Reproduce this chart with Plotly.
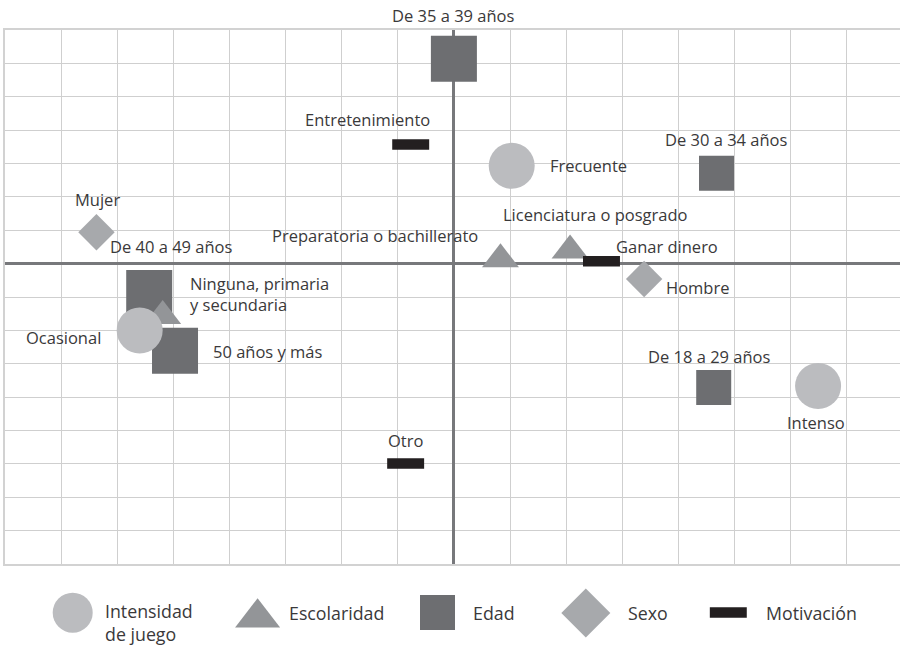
import plotly.graph_objects as go

# ---- data: coordinates of each category on the two dimensions ----
edad_labels = ["De 35 a 39 años", "De 30 a 34 años", "De 40 a 49 años", "50 años y más", "De 18 a 29 años"]
edad_x = [0.00, 4.68, -5.43, -4.97, 4.63]
edad_y = [6.14, 2.71, -0.88, -2.61, -3.71]

escolaridad_labels = ["Preparatoria o bachillerato", "Licenciatura o posgrado", "Ninguna, primaria<br>y secundaria"]
escolaridad_x = [0.83, 2.07, -5.19]
escolaridad_y = [0.13, 0.39, -1.57]

intensidad_labels = ["Frecuente", "Ocasional", "Intenso"]
intensidad_x = [1.03, -5.60, 6.49]
intensidad_y = [2.93, -2.00, -3.67]

sexo_labels = ["Mujer", "Hombre"]
sexo_x = [-6.37, 3.39]
sexo_y = [0.94, -0.46]

motivacion_labels = ["Entretenimiento", "Ganar dinero", "Otro"]
motivacion_x = [-0.77, 2.63, -0.86]
motivacion_y = [3.57, 0.07, -5.99]

legend_names = ["Intensidad<br>de juego", "Escolaridad", "Edad", "Sexo", "Motivación"]

# ---- styling ----
FONT = "Open Sans"
TEXT = "#3a393a"
C_CIRCLE = "#bbbcbf"
C_TRI = "#939598"
C_SQUARE = "#6d6e71"
C_DIAMOND = "#a7a9ac"
C_BAR = "#231f20"

W, H = 900, 647
M_L, M_T = 5, 30
PLOT_BOTTOM = 564
y_split = (H - PLOT_BOTTOM) / (H - M_T)

edad_sizes = [46, 35, 46, 46, 35]

# label placement: (xanchor, xshift px, yshift px) relative to the mark
label_pos = {
    "De 35 a 39 años": ("center", 0, 43),
    "De 30 a 34 años": ("center", 10, 34),
    "De 40 a 49 años": ("left", -39, 47),
    "50 años y más": ("left", 38, -1),
    "De 18 a 29 años": ("center", -4, 31),
    "Preparatoria o bachillerato": ("right", -22, 24),
    "Licenciatura o posgrado": ("center", 25, 36),
    "Ninguna, primaria<br>y secundaria": ("left", 27, 22),
    "Frecuente": ("left", 38, 0),
    "Ocasional": ("right", -39, -7),
    "Intenso": ("center", -2, -36),
    "Mujer": ("center", 1, 33),
    "Hombre": ("left", 22, -9),
    "Entretenimiento": ("right", 19, 25),
    "Ganar dinero": ("left", 15, 15),
    "Otro": ("center", 0, 23),
}

fig = go.Figure()

# Edad (squares) go first so the other marks sit on top of them
fig.add_trace(go.Scatter(
    x=edad_x, y=edad_y, mode="markers", name="Edad", hoverinfo="skip",
    marker=dict(symbol="square", size=edad_sizes, color=C_SQUARE, opacity=1, line=dict(width=0)),
))
fig.add_trace(go.Scatter(
    x=escolaridad_x, y=escolaridad_y, mode="markers", name="Escolaridad", hoverinfo="skip",
    marker=dict(symbol="triangle-up", size=32, color=C_TRI, opacity=1, line=dict(width=0)),
))
fig.add_trace(go.Scatter(
    x=intensidad_x, y=intensidad_y, mode="markers", name="Intensidad de juego", hoverinfo="skip",
    marker=dict(symbol="circle", size=46, color=C_CIRCLE, opacity=1, line=dict(width=0)),
))
fig.add_trace(go.Scatter(
    x=sexo_x, y=sexo_y, mode="markers", name="Sexo", hoverinfo="skip",
    marker=dict(symbol="diamond", size=28, color=C_DIAMOND, opacity=1, line=dict(width=0)),
))
fig.add_trace(go.Scatter(
    x=motivacion_x, y=motivacion_y, mode="markers", name="Motivación", hoverinfo="skip",
    marker=dict(symbol="line-ew", size=26.4, color=C_BAR, opacity=1,
                line=dict(width=10.5, color=C_BAR)),
))

annotations = []
for labels, xs, ys in [
    (edad_labels, edad_x, edad_y),
    (escolaridad_labels, escolaridad_x, escolaridad_y),
    (intensidad_labels, intensidad_x, intensidad_y),
    (sexo_labels, sexo_x, sexo_y),
    (motivacion_labels, motivacion_x, motivacion_y),
]:
    for lab, xv, yv in zip(labels, xs, ys):
        anchor, dx, dy = label_pos[lab]
        annotations.append(dict(
            x=xv, y=yv, xref="x", yref="y", text=lab, showarrow=False,
            xanchor=anchor, yanchor="middle", xshift=dx, yshift=dy,
            align="left", borderpad=0, borderwidth=0,
            font=dict(family=FONT, size=16.5, color=TEXT),
        ))

# ---- legend row drawn on its own pixel-unit axes below the plot ----
leg_x = [72.7, 257.6, 437.5, 585.8, 728.3]
leg_text_x = [105, 289, 473, 628, 766]
leg_symbols = ["circle", "triangle-up", "square", "diamond", "line-ew"]
leg_colors = [C_CIRCLE, C_TRI, C_SQUARE, C_DIAMOND, C_BAR]
leg_sizes = [40, 39, 35, 37.7, 26.4]
leg_y = [612.7, 617.7, 612.5, 613, 612.5]

for sx, sy, sym, col, sz in zip(leg_x, leg_y, leg_symbols, leg_colors, leg_sizes):
    line = dict(width=10.5, color=col) if sym == "line-ew" else dict(width=0)
    fig.add_trace(go.Scatter(
        x=[sx], y=[sy], xaxis="x2", yaxis="y2", mode="markers", hoverinfo="skip",
        marker=dict(symbol=sym, size=sz, color=col, opacity=1, line=line), showlegend=False,
    ))

for tx, name in zip(leg_text_x, legend_names):
    two_lines = "<br>" in name
    annotations.append(dict(
        x=tx, y=622.5 if two_lines else 613, xref="x2", yref="y2", text=name,
        showarrow=False, xanchor="left", yanchor="middle", align="left",
        borderpad=0, borderwidth=0,
        font=dict(family=FONT, size=17.8, color=TEXT),
    ))

grid = dict(
    showgrid=True, gridcolor="#cfcfcf", gridwidth=1.2, dtick=1,
    showticklabels=False, ticks="", zeroline=True,
    zerolinecolor="#77787b", zerolinewidth=2.5, fixedrange=True,
)

fig.update_layout(
    width=W, height=H,
    margin=dict(l=M_L, r=0, t=M_T, b=0, pad=0),
    paper_bgcolor="white", plot_bgcolor="white",
    showlegend=False,
    xaxis=dict(range=[-8, 7.95], domain=[0, 1], tick0=0,
               showline=True, mirror=True, linecolor="#d2d2d2", linewidth=2, **grid),
    yaxis=dict(range=[-9, 7], domain=[y_split, 1], tick0=0,
               showline=True, mirror=False, linecolor="#d2d2d2", linewidth=2, **grid),
    xaxis2=dict(range=[M_L, W], domain=[0, 1], anchor="y2", visible=False, fixedrange=True),
    yaxis2=dict(range=[H, PLOT_BOTTOM], domain=[0, y_split], anchor="x2", visible=False, fixedrange=True),
    annotations=annotations,
    font=dict(family=FONT, color=TEXT),
)

fig.write_html("out.html")
